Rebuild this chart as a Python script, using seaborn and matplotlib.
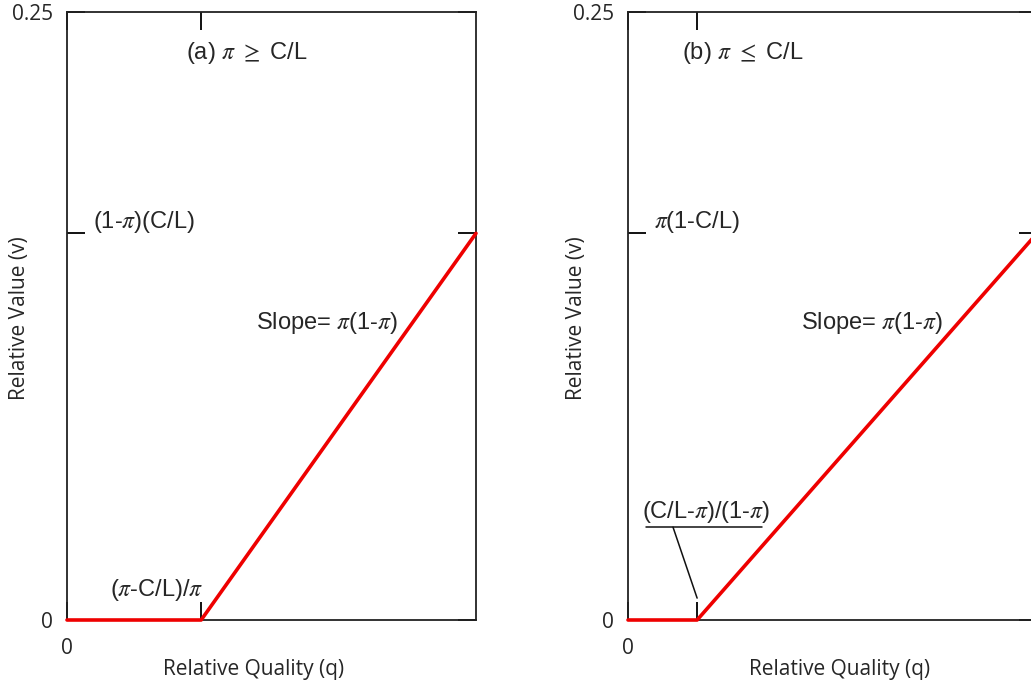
import pandas as pd
import matplotlib
matplotlib.use('Agg')
import matplotlib.pyplot as plt
import seaborn as sns

# values
q_a = [0, 0.328, 1.0]
v_a = [0, 0, 0.159]
q_b = [0, 0.169, 1.0]
v_b = [0, 0, 0.159]
v_top = 0.25
titles = [r'(a) $\pi$ $\geq$ C/L', r'(b) $\pi$ $\leq$ C/L']
level_labels = [r'(1-$\pi$)(C/L)', r'$\pi$(1-C/L)']
kink_labels = [r'($\pi$-C/L)/$\pi$', r'(C/L-$\pi$)/(1-$\pi$)']
slope_label = r'Slope= $\pi$(1-$\pi$)'

sns.set_style('white')
plt.rcParams['font.family'] = ['Liberation Sans', 'DejaVu Sans']
plt.rcParams['mathtext.fontset'] = 'stix'

fig = plt.figure(figsize=(10.31, 6.84), dpi=100)
W, H = 1031, 684
ax_a = fig.add_axes([67 / W, 64 / H, 409 / W, 608 / H])
ax_b = fig.add_axes([628 / W, 64 / H, 409 / W, 608 / H])

frames = [pd.DataFrame({'q': q_a, 'v': v_a}), pd.DataFrame({'q': q_b, 'v': v_b})]
axes = [ax_a, ax_b]
label_font = dict(family='Open Sans', size=15)

for i, ax in enumerate(axes):
    df = frames[i]
    kink = df['q'].iloc[1]
    level = df['v'].iloc[-1]
    sns.lineplot(x='q', y='v', data=df, color='#ee0000', linewidth=2.6, ax=ax,
                 clip_on=False, zorder=5)
    ax.set_xlim(0, 1)
    ax.set_ylim(0, v_top)
    for s in ax.spines.values():
        s.set_linewidth(1.3)
        s.set_color('#222222')
        s.set_visible(True)
    ax.set_xticks([0, kink])
    ax.set_xticklabels(['0', ''])
    ax.set_yticks([0, level, v_top])
    ax.set_yticklabels(['0', '', '0.25'])
    ax.tick_params(axis='both', direction='in', length=13, width=1.4,
                   color='#111111', top=True, right=True, left=True,
                   bottom=True, labelsize=15)
    ax.tick_params(axis='x', pad=13)
    ax.tick_params(axis='y', pad=10)
    for t in ax.get_xticklabels() + ax.get_yticklabels():
        t.set_fontfamily('Open Sans')

    ax.set_xlabel('Relative Quality (q)', **label_font)
    ax.set_ylabel('Relative Value (v)', **label_font)

    # panel title
    ax.text(kink - 0.037, 0.933, titles[i], transform=ax.transAxes,
            fontsize=17, ha='left', va='center')
    # level annotation
    ax.text(0.064, level + 0.0045, level_labels[i], fontsize=17,
            ha='left', va='center')

ax_a.xaxis.set_label_coords(0.455, -0.064)
ax_b.xaxis.set_label_coords(0.518, -0.064)
ax_a.yaxis.set_label_coords(-0.09, 0.497)
ax_b.yaxis.set_label_coords(-0.10, 0.497)

# slope annotations
ax_a.text(0.809, 0.122, slope_label, fontsize=17, ha='right', va='center')
ax_b.text(0.770, 0.122, slope_label, fontsize=17, ha='right', va='center')

# kink annotations
ax_a.text(0.333, 0.0125, kink_labels[0], fontsize=17, ha='right', va='center')
ax_b.text(0.192, 0.0445, kink_labels[1], fontsize=17, ha='center', va='center')
ax_b.plot([0.044, 0.328], [0.0382, 0.0382], color='#111111', linewidth=1.1)
ax_b.plot([0.110, q_b[1]], [0.0382, 0.009], color='#111111', linewidth=1.1)

fig.savefig('out.png', dpi=100)
